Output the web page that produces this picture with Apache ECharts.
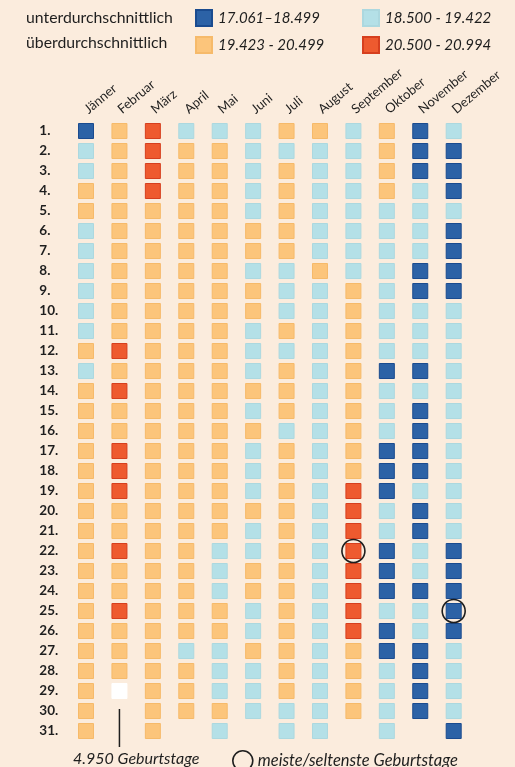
<!DOCTYPE html>
<html>
<head>
<meta charset="utf-8">
<script src="https://cdn.jsdelivr.net/npm/echarts@6/dist/echarts.min.js"></script>
<style>
html,body{margin:0;padding:0;background:#fbecdd;}
#c{width:515px;height:767px;}
</style>
</head>
<body>
<div id="c"></div>
<script>
// ---- DATA ----
const months = ['Jänner','Februar','März','April','Mai','Juni','Juli','August','September','Oktober','November','Dezember'];
const dayLabels = ['1.','2.','3.','4.','5.','6.','7.','8.','9.','10.','11.','12.','13.','14.','15.','16.','17.','18.','19.','20.','21.','22.','23.','24.','25.','26.','27.','28.','29.','30.','31.'];
const groupLabels = ['unterdurchschnittlich','überdurchschnittlich'];
const classNames = ['17.061–18.499','18.500 - 19.422','19.423 - 20.499','20.500 - 20.994'];
// class per day: 1 = 17.061–18.499, 2 = 18.500–19.422, 3 = 19.423–20.499, 4 = 20.500–20.994, 0 = 29. Februar (4.950)
const jaenner   = [1,2,2,3,3,2,2,2,2,2,2,3,2,3,3,3,3,3,3,3,3,3,3,3,3,3,3,3,3,3,3];
const februar   = [3,3,3,3,3,3,3,3,3,3,3,4,3,4,3,3,4,4,4,3,3,4,3,3,4,3,3,3,0];
const maerz     = [4,4,4,4,3,3,3,3,3,3,3,3,3,3,3,3,3,3,3,3,3,3,3,3,3,3,3,3,3,3,3];
const april     = [2,3,3,3,3,3,3,3,3,3,3,3,3,3,3,3,3,3,3,3,3,3,3,3,3,3,2,3,3,3];
const mai       = [2,3,3,3,3,3,3,3,3,3,3,3,3,3,3,3,3,3,3,3,3,2,2,2,3,3,2,2,2,3,2];
const juni      = [2,2,2,2,2,3,3,2,3,3,2,2,2,3,2,3,2,2,2,3,2,2,3,3,2,2,3,2,2,2];
const juli      = [3,2,3,3,3,3,3,2,2,2,3,2,3,3,3,2,3,3,3,3,3,3,3,3,3,3,3,3,3,2,2];
const august    = [3,2,2,2,2,2,2,3,2,2,2,2,2,2,2,2,2,2,2,2,2,2,2,2,2,2,2,2,2,2,2];
const september = [2,2,2,2,2,2,2,2,3,3,3,3,3,3,3,3,3,3,4,4,4,4,4,4,4,4,3,3,3,3];
const oktober   = [3,3,3,3,2,2,2,2,2,2,2,2,1,2,2,2,1,1,1,2,2,1,1,1,2,1,1,2,2,2,2];
const november  = [1,1,1,2,2,2,2,1,1,2,2,2,1,2,1,1,1,1,2,1,1,2,2,1,2,2,1,1,1,1];
const dezember  = [2,1,1,1,2,1,1,1,1,2,2,2,2,2,2,2,2,2,2,2,2,1,1,1,1,1,2,2,2,2,1];
const extremeDays = [['September','22.'],['Dezember','25.']];
const extremeLabel = 'meiste/seltenste Geburtstage';
const leapDayBirths = 4950;

// ---- BUILD ----
const monthData = [jaenner,februar,maerz,april,mai,juni,juli,august,september,oktober,november,dezember];
const fills   = ['#ffffff','#2c62a6','#b4e0e7','#fcc57b','#ee5a2f'];
const borders = ['#ffffff','#1a4b8f','#acd8df','#f6ba6a','#d63f1e'];
const points = [[],[],[],[],[]];
monthData.forEach((arr,m)=>arr.forEach((c,d)=>points[c].push([m,d])));

const FONT = 'Lato';
const series = [];
for (let c=0;c<5;c++){
  series.push({
    type:'scatter',
    name: c===0 ? 'leap' : classNames[c-1],
    symbol:'rect', symbolSize:15,
    itemStyle:{color:fills[c], borderColor:borders[c], borderWidth:1, opacity:1},
    emphasis:{disabled:true},
    silent:true,
    data: points[c]
  });
}
series.push({
  type:'scatter', name: extremeLabel, symbol:'circle', symbolSize:23, z:5,
  itemStyle:{color:'rgba(0,0,0,0)', borderColor:'#1e1e1e', borderWidth:1.6, opacity:1},
  silent:true,
  data: extremeDays.map(([m,d])=>[months.indexOf(m), dayLabels.indexOf(d)])
});

const chart = echarts.init(document.getElementById('c'), null, {renderer:'canvas'});
function classLegend(name, left, topPos){
  return {
    left:left, top:topPos, data:[name], orient:'horizontal', icon:'rect',
    itemWidth:16, itemHeight:16, padding:0, selectedMode:false,
    textStyle:{fontFamily:FONT, fontStyle:'italic', fontSize:15, color:'#1e1e1e', padding:[0,0,0,1]}
  };
}
chart.setOption({
  backgroundColor:'#fbecdd',
  animation:false,
  grid:{left:69.3, right:44.6, top:121, bottom:26},
  xAxis:{
    type:'category', position:'top', data:months,
    axisLine:{show:false}, axisTick:{show:false}, splitLine:{show:false},
    axisLabel:{rotate:-40, margin:10, interval:0, fontFamily:FONT, fontSize:13, color:'#1e1e1e'}
  },
  yAxis:{
    type:'category', inverse:true, data:dayLabels,
    axisLine:{show:false}, axisTick:{show:false}, splitLine:{show:false},
    axisLabel:{align:'left', margin:30, interval:0, fontFamily:FONT, fontWeight:'bold', fontSize:13.5, color:'#1e1e1e'}
  },
  legend:[
    classLegend(classNames[0], 195, 9),
    classLegend(classNames[1], 362, 9),
    classLegend(classNames[2], 195, 36),
    classLegend(classNames[3], 362, 36),
    {left:232, top:750, padding:0, data:[extremeLabel], icon:'circle', itemWidth:20, itemHeight:20, selectedMode:false,
     itemStyle:{color:'rgba(0,0,0,0)', borderColor:'#1e1e1e', borderWidth:1.6},
     textStyle:{fontFamily:FONT, fontStyle:'italic', fontSize:16.5, color:'#1e1e1e'}}
  ],
  series: series
});

// annotation for the leap day
const pTop = chart.convertToPixel({xAxisIndex:0,yAxisIndex:0},[1, dayLabels.indexOf('30.')]);
const pBot = chart.convertToPixel({xAxisIndex:0,yAxisIndex:0},[1, dayLabels.indexOf('31.')]);
chart.setOption({
  graphic:[
    {type:'text', left:26, top:10, style:{text:groupLabels[0], font:'15.8px '+FONT, fill:'#1e1e1e'}},
    {type:'text', left:26, top:35, style:{text:groupLabels[1], font:'15.8px '+FONT, fill:'#1e1e1e'}},
    {type:'line', shape:{x1:pTop[0], y1:pTop[1]-2, x2:pBot[0], y2:pBot[1]+16}, style:{stroke:'#1e1e1e', lineWidth:1.5}},
    {type:'text', left:73, top:751, style:{text:leapDayBirths.toLocaleString('de-DE')+' Geburtstage', font:'italic 16px '+FONT, fill:'#1e1e1e'}}
  ]
});
</script>
</body>
</html>
